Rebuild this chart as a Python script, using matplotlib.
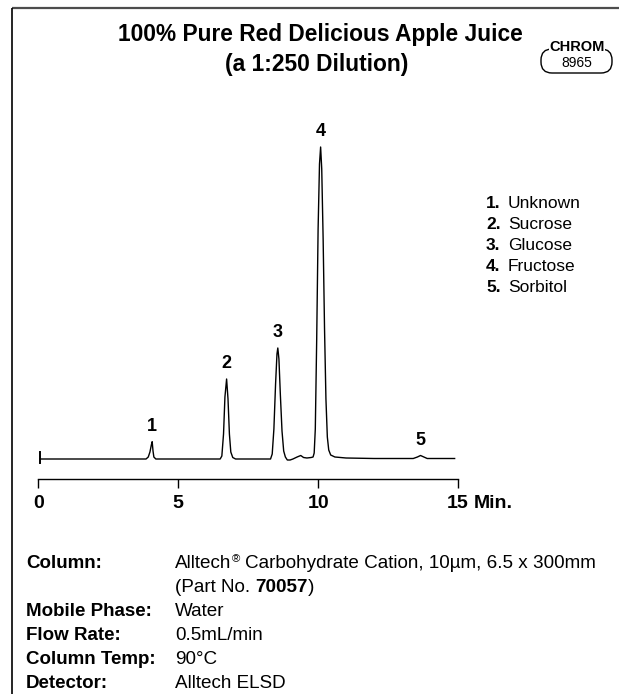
import matplotlib
matplotlib.use("Agg")
import matplotlib.pyplot as plt
from matplotlib.patches import FancyBboxPatch

plt.rcParams['font.family'] = ['Liberation Sans Narrow', 'Liberation Sans', 'DejaVu Sans']

# Chromatogram trace (minutes, detector response)
trace_time = [0.05, 3.85, 3.93, 3.99, 4.04, 4.07, 4.10, 4.13, 4.20,
              6.50, 6.56, 6.62, 6.67, 6.73, 6.78, 6.83, 6.88, 6.95, 7.05,
              8.30, 8.36, 8.42, 8.48, 8.53, 8.56, 8.60, 8.65, 8.71, 8.77, 8.83, 8.90, 9.00,
              9.10, 9.25, 9.38, 9.48, 9.60, 9.75,
              9.82, 9.86, 9.90, 9.95, 10.00, 10.05, 10.09, 10.13, 10.18, 10.23, 10.28,
              10.33, 10.38, 10.45, 10.60, 11.0, 12.0,
              13.40, 13.55, 13.66, 13.78, 13.90, 14.88]
trace_signal = [0, 0, 2, 7, 14, 17.3, 8, 2, 0,
                0, 3, 25, 62, 80, 60, 25, 7, 1.5, 0,
                0, 5, 30, 75, 105, 111, 100, 65, 28, 8, 2, -1, -1,
                0, 2, 3.5, 1.5, 1, 1.5,
                2, 6, 30, 120, 230, 295, 312, 290, 220, 130, 60,
                22, 9, 4, 2, 1, 0.5,
                0.5, 2, 3.5, 2, 0.5, 0.5]

peak_numbers = ['1', '2', '3', '4', '5']
peak_times = [4.07, 6.73, 8.56, 10.09, 13.66]
peak_heights = [17.3, 80, 111, 312, 3.5]
compounds = ['Unknown', 'Sucrose', 'Glucose', 'Fructose', 'Sorbitol']

x_ticks = [0, 5, 10, 15]
x_tick_labels = ['0', '5', '10', '15']
time_unit = 'Min.'

title_lines = ['100% Pure Red Delicious Apple Juice', '(a 1:250 Dilution)']
chrom_id = '8965'

condition_labels = ['Column:', '', 'Mobile Phase:', 'Flow Rate:', 'Column Temp:', 'Detector:']
# each value is a list of (text, weight, size factor, raise)
condition_values = [
    [('Alltech', 'normal', 1.0, 0), ('®', 'normal', 0.6, -4),
     (' Carbohydrate Cation, 10µm, 6.5 x 300mm', 'normal', 1.0, 0)],
    [('(Part No.', 'normal', 1.0, 0), (' 70057', 'bold', 1.0, 0), (')', 'normal', 1.0, 0)],
    [('Water', 'normal', 1.0, 0)],
    [('0.5mL/min', 'normal', 1.0, 0)],
    [('90°C', 'normal', 1.0, 0)],
    [('Alltech ELSD', 'normal', 1.0, 0)],
]

W, H = 619, 694
fig = plt.figure(figsize=(W / 100, H / 100), dpi=100)

# overlay in pixel units for frame and text blocks
bg = fig.add_axes([0, 0, 1, 1])
bg.set_xlim(0, W)
bg.set_ylim(H, 0)
bg.axis('off')

bg.plot([11.5, W], [8, 8], color='#4d4d4d', lw=1.6, solid_capstyle='butt')
bg.plot([11.5, 11.5], [8, H], color='black', lw=1.2, solid_capstyle='butt')

bg.text(320, 34, title_lines[0], ha='center', va='center', fontsize=16.4, fontweight='bold')
bg.text(317, 64, title_lines[1], ha='center', va='center', fontsize=16.4, fontweight='bold')

badge = FancyBboxPatch((541, 49), 71, 24, boxstyle='round,pad=0,rounding_size=11',
                       fill=False, lw=1.0, ec='black')
bg.add_patch(badge)
bg.text(577, 47, 'CHROM', ha='center', va='center', fontsize=10.5, fontweight='bold',
        bbox=dict(fc='white', ec='none', pad=0.5))
bg.text(577, 63, chrom_id, ha='center', va='center', fontsize=10)

# legend of compounds
for i, (num, name) in enumerate(zip(peak_numbers, compounds)):
    y = 203 + 21 * i
    bg.text(486, y, num + '.', ha='left', va='center', fontsize=12.5, fontweight='bold')
    bg.text(508, y, name, ha='left', va='center', fontsize=12.5)

# run conditions
renderer = fig.canvas.get_renderer()
for i, (label, runs) in enumerate(zip(condition_labels, condition_values)):
    y = 563 + 24.2 * i
    if label:
        bg.text(26, y, label, ha='left', va='center', fontsize=13.5, fontweight='bold')
    x = 175
    for text, weight, fsize, dy in runs:
        lead = len(text) - len(text.lstrip(' '))
        if lead:
            sp = bg.text(0, 0, 'a a', fontsize=13.5)
            nsp = bg.text(0, 0, 'aa', fontsize=13.5)
            x += lead * (sp.get_window_extent(renderer).width - nsp.get_window_extent(renderer).width)
            sp.remove()
            nsp.remove()
        t = bg.text(x, y + dy, text.lstrip(' '), ha='left', va='center',
                    fontsize=13.6 * fsize, fontweight=weight)
        x += t.get_window_extent(renderer).width

# chromatogram axes: 0 min at x=38.3 px, 15 min at x=458 px; signal 0 at y=459 px
ax = fig.add_axes([38.3 / W, (H - 500) / H, 419.7 / W, 380 / H])
ax.patch.set_alpha(0)
ax.set_xlim(0, 15)
ax.set_ylim(-41, 339)

ax.plot(trace_time, trace_signal, color='black', lw=1.0, clip_on=False)
ax.plot([trace_time[0], trace_time[0]], [-4, 7], color='black', lw=1.4, clip_on=False)

for num, t, h in zip(peak_numbers, peak_times, peak_heights):
    ax.annotate(num, (t, h), xytext=(0, 11), textcoords='offset points',
                ha='center', va='center', fontsize=13, fontweight='bold')

for side in ['left', 'right', 'top']:
    ax.spines[side].set_visible(False)
ax.spines['bottom'].set_position(('data', -20))
ax.spines['bottom'].set_bounds(0, 15)
ax.spines['bottom'].set_linewidth(1.0)
ax.set_yticks([])
ax.set_xticks(x_ticks)
ax.set_xticklabels(x_tick_labels)
ax.tick_params(axis='x', direction='out', length=6.5, width=1.0, pad=5, labelsize=14)
for lbl in ax.get_xticklabels():
    lbl.set_fontweight('bold')
ax.annotate(time_unit, (15, -20), xytext=(11.5, -17.5), textcoords='offset points',
            ha='left', va='center', fontsize=14, fontweight='bold')

fig.savefig('out.png', dpi=100)
